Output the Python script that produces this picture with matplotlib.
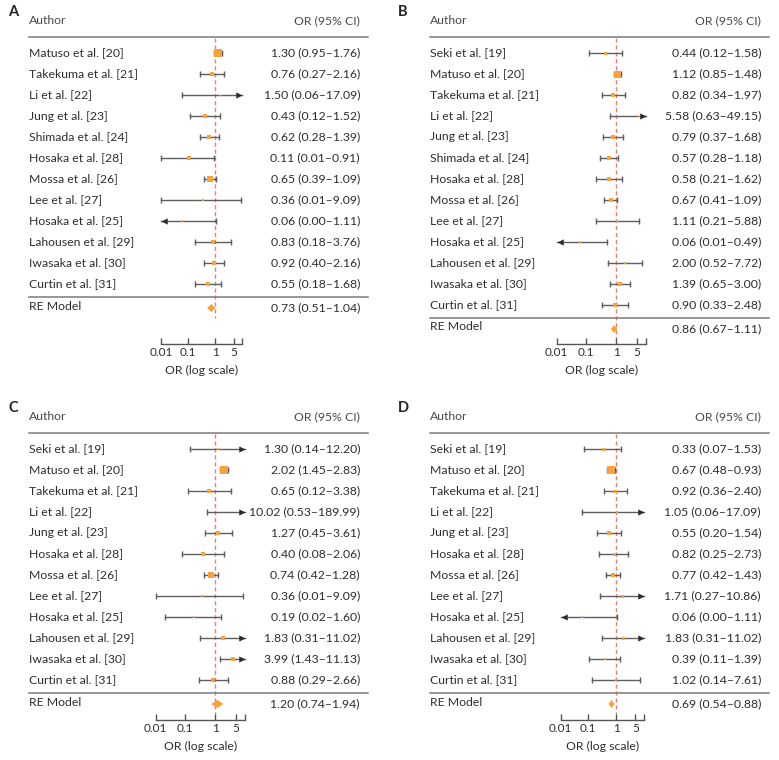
import matplotlib
matplotlib.use("Agg")
import matplotlib.pyplot as plt
from matplotlib.patches import Polygon
import numpy as np

plt.rcParams['font.family'] = ['Lato', 'DejaVu Sans']

# === DATA ===
authors_A = ["Matuso et al. [20]", "Takekuma et al. [21]", "Li et al. [22]", "Jung et al. [23]",
             "Shimada et al. [24]", "Hosaka et al. [28]", "Mossa et al. [26]", "Lee et al. [27]",
             "Hosaka et al. [25]", "Lahousen et al. [29]", "Iwasaka et al. [30]", "Curtin et al. [31]"]
or_A = [1.30, 0.76, 1.50, 0.43, 0.62, 0.11, 0.65, 0.36, 0.06, 0.83, 0.92, 0.55]
lo_A = [0.95, 0.27, 0.06, 0.12, 0.28, 0.01, 0.39, 0.01, 0.004, 0.18, 0.40, 0.18]
hi_A = [1.76, 2.16, 17.09, 1.52, 1.39, 0.91, 1.09, 9.09, 1.11, 3.76, 2.16, 1.68]
wt_A = [8, 4, 1.5, 4, 5, 3.5, 6.5, 2.5, 2.5, 3.5, 4.5, 4]
re_A = [0.73, 0.51, 1.04]

authors_B = ["Seki et al. [19]", "Matuso et al. [20]", "Takekuma et al. [21]", "Li et al. [22]",
             "Jung et al. [23]", "Shimada et al. [24]", "Hosaka et al. [28]", "Mossa et al. [26]",
             "Lee et al. [27]", "Hosaka et al. [25]", "Lahousen et al. [29]", "Iwasaka et al. [30]",
             "Curtin et al. [31]"]
or_B = [0.44, 1.12, 0.82, 5.58, 0.79, 0.57, 0.58, 0.67, 1.11, 0.06, 2.00, 1.39, 0.90]
lo_B = [0.12, 0.85, 0.34, 0.63, 0.37, 0.28, 0.21, 0.41, 0.21, 0.006, 0.52, 0.65, 0.33]
hi_B = [1.58, 1.48, 1.97, 49.15, 1.68, 1.18, 1.62, 1.09, 5.88, 0.49, 7.72, 3.00, 2.48]
wt_B = [3, 7, 4, 1.5, 4, 4, 3.5, 5, 2.5, 2, 2.5, 4, 3.5]
re_B = [0.86, 0.67, 1.11]

authors_C = ["Seki et al. [19]", "Matuso et al. [20]", "Takekuma et al. [21]", "Li et al. [22]",
             "Jung et al. [23]", "Hosaka et al. [28]", "Mossa et al. [26]", "Lee et al. [27]",
             "Hosaka et al. [25]", "Lahousen et al. [29]", "Iwasaka et al. [30]", "Curtin et al. [31]"]
or_C = [1.30, 2.02, 0.65, 10.02, 1.27, 0.40, 0.74, 0.36, 0.19, 1.83, 3.99, 0.88]
lo_C = [0.14, 1.45, 0.12, 0.53, 0.45, 0.08, 0.42, 0.01, 0.02, 0.31, 1.43, 0.29]
hi_C = [12.20, 2.83, 3.38, 189.99, 3.61, 2.06, 1.28, 9.09, 1.60, 11.02, 11.13, 2.66]
wt_C = [2, 8, 3.5, 1.5, 4.5, 3.5, 6.5, 2.5, 2, 3.5, 5, 5]
re_C = [1.20, 0.74, 1.94]

authors_D = authors_C
or_D = [0.33, 0.67, 0.92, 1.05, 0.55, 0.82, 0.77, 1.71, 0.06, 1.83, 0.39, 1.02]
lo_D = [0.07, 0.48, 0.36, 0.06, 0.20, 0.25, 0.42, 0.27, 0.004, 0.31, 0.11, 0.14]
hi_D = [1.53, 0.93, 2.40, 17.09, 1.54, 2.73, 1.43, 10.86, 1.11, 11.02, 1.39, 7.61]
wt_D = [3, 8, 3, 2, 3.5, 3, 5, 3, 2, 3, 2.5, 2.5]
re_D = [0.69, 0.54, 0.88]

ticks = [0.01, 0.1, 1, 5, 10]
tick_labels = ["0.01", "0.1", "1", "5", ""]

# === STYLE ===
ORANGE = '#F7A23B'
REF = '#EE7F6F'
BAR = '#5e5e5e'
ARROW = '#2b2b2b'
TXT = '#2e2e2e'
LINE = '#7a7a7a'
FS = 8.8

W, H = 779, 760
fig = plt.figure(figsize=(W / 100, H / 100), dpi=100)

# panel geometry in figure pixels
panels = [
    dict(letter="A", box=(0, 390, 0, 380), one=215, dec=27.0, tl=29, tr=360, lr=368, top=0, axis_y=344,
         authors=authors_A, est=or_A, lo=lo_A, hi=hi_A, wt=wt_A, re=re_A),
    dict(letter="B", box=(390, 779, 0, 380), one=616, dec=29.7, tl=430, tr=761, lr=769, top=0, axis_y=344,
         authors=authors_B, est=or_B, lo=lo_B, hi=hi_B, wt=wt_B, re=re_B),
    dict(letter="C", box=(0, 390, 380, 760), one=215, dec=29.7, tl=29, tr=360, lr=368, top=396, axis_y=720,
         authors=authors_C, est=or_C, lo=lo_C, hi=hi_C, wt=wt_C, re=re_C),
    dict(letter="D", box=(390, 779, 380, 760), one=616, dec=27.7, tl=430, tr=761, lr=769, top=396, axis_y=720,
         authors=authors_D, est=or_D, lo=lo_D, hi=hi_D, wt=wt_D, re=re_D),
]

tri_right = [(0, 0), (-1, 0.5), (-1, -0.5), (0, 0)]
tri_left = [(0, 0), (1, 0.5), (1, -0.5), (0, 0)]
XMIN, XMAX = 0.01, 10

for p in panels:
    x0, x1, y0, y1 = p['box']
    ax = fig.add_axes([x0 / W, 1 - y1 / H, (x1 - x0) / W, (y1 - y0) / H])
    ax.set_xscale('log')
    fx = lambda px, p=p: 10 ** ((px - p['one']) / p['dec'])
    ax.set_xlim(fx(x0), fx(x1))
    ax.set_ylim(y1, y0)
    top = p['top']

    # headers
    ax.text(fx(x0 + 13), top + 12, p['letter'], fontsize=10.5, fontweight='bold', color='#222222',
            ha='center', va='center')
    ax.text(fx(p['tl']), top + 21, "Author", fontsize=FS, color='#4a4a4a', ha='left', va='center')
    ax.text(fx(p['tr']), top + 21, "OR (95% CI)", fontsize=FS, color='#4a4a4a', ha='right', va='center')
    ax.plot([fx(p['tl']), fx(p['lr'])], [top + 37, top + 37], color=LINE, lw=1.1)

    n = len(p['authors'])
    rows = top + 53 + 21 * np.arange(n)
    last = rows[-1]
    re_y = last + 24

    # reference line
    ax.plot([1, 1], [top + 38, re_y + 10], color=REF, lw=1.0, ls=(0, (3, 2)), zorder=1)

    for i in range(n):
        y = rows[i]
        est, lo, hi = p['est'][i], p['lo'][i], p['hi'][i]
        a, b = max(lo, XMIN), min(hi, XMAX)
        ax.plot([a, b], [y, y], color=BAR, lw=1.0, zorder=2)
        if lo >= XMIN:
            ax.plot([lo], [y], marker='|', ms=4.5, mew=1.0, color=BAR, zorder=2)
        else:
            ax.plot([XMIN], [y], marker=tri_left, ms=9, color=ARROW, mew=0, zorder=3)
        if hi <= XMAX:
            ax.plot([hi], [y], marker='|', ms=4.5, mew=1.0, color=BAR, zorder=2)
        else:
            ax.plot([XMAX], [y], marker=tri_right, ms=9, color=ARROW, mew=0, zorder=3)
        if XMIN <= est <= XMAX:
            ax.plot([est], [y], marker='s', ms=p['wt'][i] * 0.72, color=ORANGE, mew=0, zorder=4)
        ax.text(fx(p['tl']), y, p['authors'][i], fontsize=FS, color=TXT, ha='left', va='center')
        ax.text(fx(p['tr']), y, f"{est:.2f} ({lo:.2f}\u2013{hi:.2f})", fontsize=FS, color=TXT,
                ha='right', va='center')

    # summary
    ax.plot([fx(p['tl']), fx(p['lr'])], [last + 12.5, last + 12.5], color=LINE, lw=1.1)
    est, lo, hi = p['re']
    ax.add_patch(Polygon([(lo, re_y), (est, re_y - 4), (hi, re_y), (est, re_y + 4)],
                         closed=True, color=ORANGE, lw=0, zorder=4))
    ax.text(fx(p['tl']), re_y - 2, "RE Model", fontsize=FS, color=TXT, ha='left', va='center')
    ax.text(fx(p['tr']), re_y, f"{est:.2f} ({lo:.2f}\u2013{hi:.2f})", fontsize=FS, color=TXT,
            ha='right', va='center')

    # x axis
    for s in ['left', 'right', 'top']:
        ax.spines[s].set_visible(False)
    ax.spines['bottom'].set_position(('data', p['axis_y']))
    ax.spines['bottom'].set_bounds(XMIN, XMAX)
    ax.spines['bottom'].set_color('#555555')
    ax.spines['bottom'].set_linewidth(1.0)
    ax.set_yticks([])
    ax.set_xticks(ticks)
    ax.set_xticklabels(tick_labels)
    ax.xaxis.set_minor_locator(matplotlib.ticker.NullLocator())
    ax.tick_params(axis='x', direction='in', length=4.5, width=1.0, color='#555555',
                   labelsize=FS - 0.3, labelcolor=TXT, pad=2)
    ax.text(np.sqrt(XMIN * XMAX), p['axis_y'] + 26, "OR (log scale)", fontsize=FS, color=TXT,
            ha='center', va='center')
    ax.patch.set_alpha(0)

fig.savefig("out.png", dpi=100)
